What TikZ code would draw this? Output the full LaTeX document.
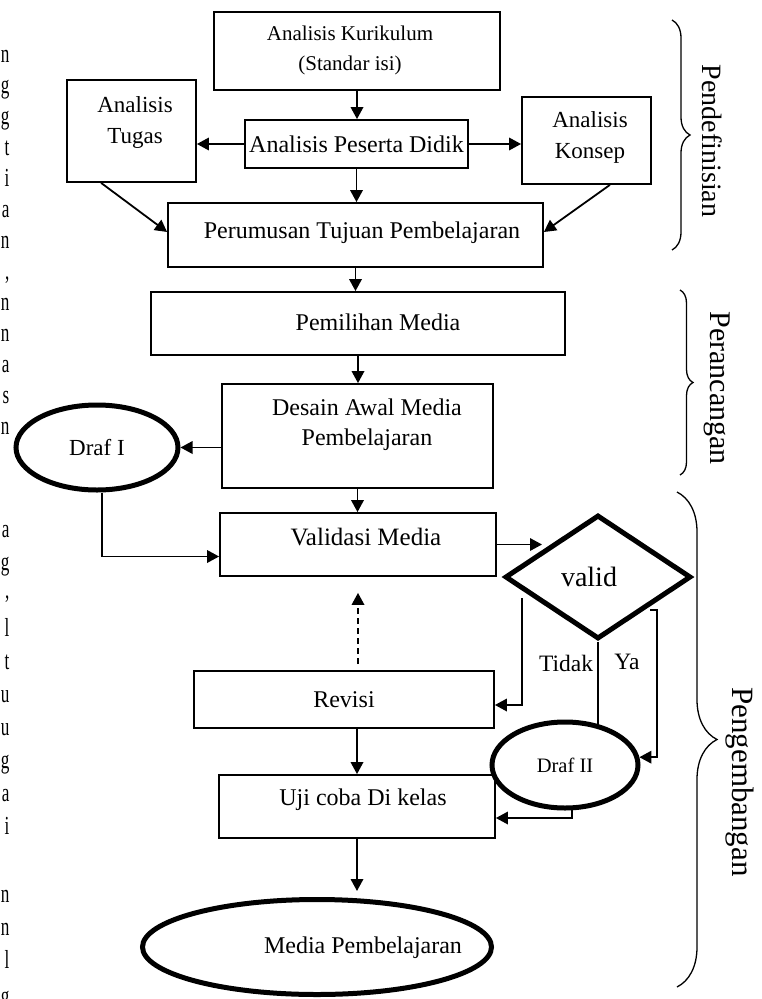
\documentclass[tikz,border=0pt]{standalone}
\usepackage{fontspec}
\setmainfont{Liberation Serif}
\usetikzlibrary{shapes.geometric,arrows.meta,decorations.pathreplacing}
\begin{document}
\begin{tikzpicture}[x=1pt,y=-1pt,
  box/.style={draw, line width=1.8pt, inner sep=0pt},
  bold/.style={draw, line width=5pt, inner sep=0pt},
  txt/.style={inner sep=0pt, align=center, font=\fontsize{24}{30}\selectfont},
  ln/.style={line width=1.8pt},
  arr/.style={line width=1.8pt, -{Triangle[length=12pt,width=12.5pt]}},
  brc/.style={line width=1.3pt, decorate},
  side/.style={inner sep=0pt, rotate=-90, font=\fontsize{28}{30}\selectfont},
  marg/.style={inner sep=0pt, anchor=base east, xscale=0.66, font=\fontsize{26}{26}\selectfont}]
\useasboundingbox (0,0) rectangle (762,999);

% margin letters (cut-off text column)
\foreach \y/\l [count=\i] in {62/n,93/g,124/g,155/t,186/i,217/a,248/n,310/n,341/n,372/a,403/s,434/n,
  537/a,570/g,636/l,669/t,702/u,735/u,768/g,801/a,834/i,902/n,935/n,968/l,1004/g}
  \node[marg] (m\i) at (9.5,\y) {\l};
\node[marg] (mc1) at (9.5,279) {,};
\node[marg] (mc2) at (9.5,598) {,};

% boxes
\node[box, minimum width=286pt, minimum height=78pt] (kur) at (357,51) {};
\node[txt, font=\fontsize{21}{30}\selectfont] (kur-t) at (350,50) {Analisis Kurikulum\\(Standar isi)};
\node[box, minimum width=223pt, minimum height=48pt, font=\fontsize{24}{30}\selectfont] (ped) at (356.5,144) {Analisis Peserta Didik};
\node[box, minimum width=129pt, minimum height=102pt] (tug) at (131.5,131) {};
\node[txt, font=\fontsize{23}{31}\selectfont] (tug-t) at (135,122.5) {Analisis\\Tugas};
\node[box, minimum width=129pt, minimum height=87pt] (kon) at (586.5,140.5) {};
\node[txt, font=\fontsize{23}{31}\selectfont] (kon-t) at (590,137.5) {Analisis\\Konsep};
\node[box, minimum width=375pt, minimum height=64pt] (per) at (355.5,235) {};
\node[txt] (per-t) at (362,233) {Perumusan Tujuan Pembelajaran};
\node[box, minimum width=414pt, minimum height=63pt] (pem) at (358,323.5) {};
\node[txt] (pem-t) at (378,322) {Pemilihan Media};
\node[box, minimum width=271pt, minimum height=104pt] (des) at (357.5,436) {};
\node[txt] (des-t) at (367,425) {Desain Awal Media\\Pembelajaran};
\node[box, minimum width=276pt, minimum height=63pt] (val) at (358,544.5) {};
\node[txt, font=\fontsize{25}{30}\selectfont] (val-t) at (366,537) {Validasi Media};
\node[box, minimum width=300pt, minimum height=57pt, font=\fontsize{24}{30}\selectfont] (rev) at (344,699.5) {Revisi};
\node[box, minimum width=276pt, minimum height=63pt] (uji) at (357,806.5) {};
\node[txt] (uji-t) at (363,800) {Uji coba Di kelas};

% ellipses and decision
\node[bold, ellipse, minimum width=162pt, minimum height=85pt, font=\fontsize{23}{28}\selectfont] (draf1) at (97,447.5) {Draf I};
\node[bold, diamond, minimum width=186pt, minimum height=124pt] (valid) at (598,577) {};
\node[txt, font=\fontsize{28}{30}\selectfont] (valid-t) at (589,577) {valid};
\node[bold, ellipse, minimum width=146pt, minimum height=86pt, font=\fontsize{20.5}{24}\selectfont] (draf2) at (565,765) {Draf II};
\node[bold, ellipse, minimum width=349pt, minimum height=95pt] (media) at (317,947) {};
\node[txt] (media-t) at (363,948) {Media Pembelajaran};

% labels
\node[txt, font=\fontsize{23.5}{28}\selectfont] (tidak) at (566,663) {Tidak};
\node[txt, font=\fontsize{23.5}{28}\selectfont] (ya) at (627,662) {Ya};

% free ends
\coordinate (vin) at (542,544.5);
\coordinate (tid) at (522,598);
\coordinate (ya0) at (650,610);
\coordinate (ya1) at (657,610);

% connectors
\draw[arr] (kur.south) -- (kur.south |- ped.north);
\draw[arr] (ped.west) -- (ped.west -| tug.east);
\draw[arr] (ped.east) -- (ped.east -| kon.west);
\draw[arr] (ped.south) -- (ped.south |- per.north);
\draw[arr] ([xshift=35pt]tug.south west) -- ([yshift=3pt]per.west);
\draw[arr] ([xshift=-42pt]kon.south east) -- ([yshift=3pt]per.east);
\draw[arr] (per.south) -- (per.south |- pem.north);
\draw[arr] (pem.south) -- (pem.south |- des.north);
\draw[arr] (des.west |- draf1.east) -- (draf1.east);
\draw[arr] (des.south) -- (des.south |- val.north);
\draw[arr] ([xshift=5pt]draf1.south) |- ([yshift=-12pt]val.west);
\draw[arr] (val.east) -- (vin);
\draw[arr] (tid) |- ([yshift=-5.5pt]rev.east);
\draw[ln] (valid.south) -- (valid.south |- draf2.47);
\draw[arr] (ya0) -- (ya1) |- (draf2.6);
\draw[arr, dashed, dash pattern=on 6pt off 4pt, shorten <=6pt, shorten >=16pt] (val.south |- rev.north) -- (val.south);
\draw[arr] (uji.north |- rev.south) -- (uji.north);
\draw[arr] (draf2.-81) |- ([yshift=-11.5pt]uji.east);
\draw[arr, shorten >=6pt] (uji.south) -- (uji.south |- media.north);

% braces
\coordinate (b1a) at (672,20);  \coordinate (b1b) at (672,250);
\coordinate (b2a) at (680,290); \coordinate (b2b) at (680,475);
\coordinate (b3a) at (677,492); \coordinate (b3b) at (677,987);
\draw[brc, decoration={brace, amplitude=18pt}] (b1a) -- (b1b);
\draw[brc, decoration={brace, amplitude=13pt}] (b2a) -- (b2b);
\draw[brc, decoration={brace, amplitude=40pt}] (b3a) -- (b3b);
\node[side] (s1) at (712,141) {Pendefinisian};
\node[side, font=\fontsize{30}{32}\selectfont] (s2) at (717,388) {Perancangan};
\node[side, font=\fontsize{31}{32}\selectfont] (s3) at (740,782) {Pengembangan};
\end{tikzpicture}
\end{document}
